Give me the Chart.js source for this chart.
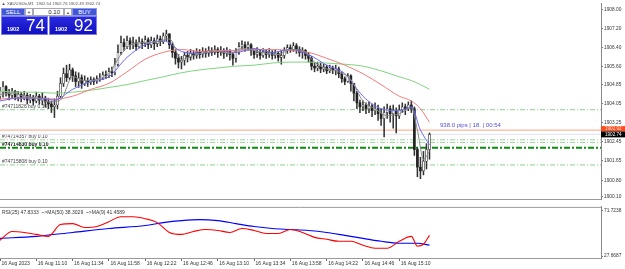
<!DOCTYPE html>
<html><head><meta charset="utf-8">
<script src="https://cdn.jsdelivr.net/npm/chart.js@4.4.0/dist/chart.umd.min.js"></script>
<style>
html,body{margin:0;padding:0;background:#fff;width:625px;height:269px;overflow:hidden;font-family:"Liberation Sans",Arial,sans-serif}
canvas{position:absolute;left:0}
#c1{top:0}
#c2{top:203px}
#panel div{position:absolute;box-sizing:border-box;text-align:center;white-space:nowrap}
.btn{background:#4257d8;color:#fff;font-size:6px;line-height:7px;border:1px solid #8c98e6}
.arr{background:#fff;color:#555;font-size:4px;line-height:7px;border:1px solid #a8a8b8}
.lot{background:#fff;color:#222;font-size:6px;line-height:7px;border:1px solid #a8a8b8;text-align:right!important;padding-right:3px}
.px{background:linear-gradient(#2a2ae0,#1010c0);color:#fff;border:1px solid #7d7de8}
.px .s{position:absolute;left:5px;top:9px;font-size:5.5px;font-weight:bold}
.px .b{position:absolute;left:24px;top:0px;font-size:17px;line-height:18px}
</style></head><body>
<canvas id="c1" width="625" height="203" style="width:625px;height:203px"></canvas>
<canvas id="c2" width="625" height="66" style="width:625px;height:66px"></canvas>
<div id="panel">
  <div class="btn" style="left:1px;top:8px;width:24px;height:8px">SELL</div>
  <div class="arr" style="left:25px;top:8px;width:8px;height:8px">▼</div>
  <div class="lot" style="left:33px;top:8px;width:31px;height:8px">0.10</div>
  <div class="arr" style="left:64px;top:8px;width:8px;height:8px">▲</div>
  <div class="btn" style="left:72px;top:8px;width:25px;height:8px">BUY</div>
  <div class="px" style="left:1px;top:16px;width:47px;height:19px"><span class="s">1902</span><span class="b">74</span></div>
  <div class="px" style="left:49px;top:16px;width:48px;height:19px"><span class="s">1902</span><span class="b">92</span></div>
</div>
<script>
// ---------------- DATA ----------------
const opens = [1904.35,1904.56,1904.76,1904.48,1904.39,1904.56,1904.31,1904.43,1904.27,1904.39,
1904.19,1904.31,1904.15,1904.35,1904.19,1904.27,1904.11,1904.02,1903.90,1903.98,
1904.35,1904.89,1905.30,1905.13,1905.46,1905.21,1904.97,1905.13,1904.89,1905.01,
1904.93,1905.05,1904.97,1905.09,1905.13,1905.25,1905.21,1905.38,1905.34,1905.70,
1906.20,1906.61,1906.44,1906.69,1906.52,1906.61,1906.44,1906.65,1906.57,1906.73,
1906.52,1906.69,1906.57,1906.77,1906.65,1906.89,1906.98,1906.52,1906.20,1905.95,
1905.79,1905.87,1906.07,1905.99,1906.16,1906.07,1906.20,1906.11,1906.24,1906.16,
1906.28,1906.20,1906.32,1906.20,1906.28,1906.16,1906.24,1906.11,1905.95,1906.20,
1906.44,1906.52,1906.40,1906.52,1906.28,1906.11,1906.20,1906.07,1906.24,1906.11,
1906.20,1906.07,1906.16,1905.99,1906.07,1906.28,1906.40,1906.32,1906.48,1906.32,
1906.20,1906.28,1906.07,1905.95,1905.62,1905.54,1905.62,1905.50,1905.58,1905.42,
1905.54,1905.46,1905.50,1905.30,1905.09,1904.97,1905.21,1904.89,1904.48,1904.07,
1903.90,1903.98,1903.82,1903.94,1903.74,1903.82,1903.61,1903.41,1903.66,1903.82,
1903.61,1903.74,1903.53,1903.78,1903.90,1903.82,1903.98,1903.82,1902.10,1901.36,
1901.20,1901.61,1902.10];
const highs = [1904.72,1904.97,1904.80,1904.64,1904.68,1904.60,1904.56,1904.52,1904.56,1904.48,
1904.43,1904.39,1904.52,1904.43,1904.48,1904.35,1904.27,1904.15,1904.23,1904.56,
1905.13,1905.54,1905.66,1905.70,1905.54,1905.38,1905.34,1905.25,1905.21,1905.13,
1905.17,1905.13,1905.21,1905.30,1905.38,1905.42,1905.54,1905.58,1905.95,1906.52,
1906.89,1906.77,1906.89,1906.81,1906.85,1906.73,1906.85,1906.77,1906.89,1906.81,
1906.85,1906.81,1906.93,1906.89,1907.02,1907.14,1906.98,1906.61,1906.32,1906.11,
1906.03,1906.20,1906.24,1906.32,1906.28,1906.36,1906.32,1906.40,1906.36,1906.44,
1906.40,1906.48,1906.40,1906.44,1906.36,1906.40,1906.32,1906.20,1906.36,1906.61,
1906.69,1906.65,1906.65,1906.57,1906.36,1906.40,1906.32,1906.36,1906.32,1906.36,
1906.28,1906.32,1906.24,1906.28,1906.40,1906.52,1906.52,1906.61,1906.57,1906.44,
1906.40,1906.32,1906.20,1906.03,1905.75,1905.79,1905.75,1905.70,1905.66,1905.66,
1905.62,1905.66,1905.58,1905.38,1905.17,1905.30,1905.25,1904.89,1904.56,1904.19,
1904.15,1904.07,1904.11,1904.02,1904.07,1903.98,1903.82,1903.90,1904.02,1903.94,
1903.98,1903.86,1903.98,1904.07,1904.02,1904.11,1904.15,1903.90,1902.18,1901.77,
1902.02,1902.35,1902.80];
const lows = [1904.23,1904.31,1904.35,1904.19,1904.27,1904.19,1904.15,1904.11,1904.19,1904.02,
1904.07,1903.98,1904.07,1904.02,1903.98,1903.90,1903.82,1903.66,1903.45,1903.82,
1904.27,1904.76,1904.97,1905.05,1904.97,1904.76,1904.72,1904.68,1904.80,1904.76,
1904.84,1904.84,1904.89,1904.97,1905.05,1905.09,1905.13,1905.17,1905.25,1905.62,
1906.11,1906.28,1906.36,1906.32,1906.36,1906.28,1906.40,1906.36,1906.44,1906.36,
1906.40,1906.32,1906.44,1906.48,1906.57,1906.69,1906.36,1905.99,1905.70,1905.54,
1905.50,1905.66,1905.79,1905.87,1905.91,1905.95,1905.95,1905.99,1905.99,1906.03,
1906.07,1906.11,1905.99,1906.07,1905.95,1906.03,1905.87,1905.66,1905.79,1906.11,
1906.32,1906.24,1906.28,1906.07,1905.95,1905.99,1905.91,1905.99,1905.95,1905.99,
1905.91,1905.95,1905.83,1905.70,1905.95,1906.16,1906.20,1906.24,1906.16,1906.03,
1905.95,1905.91,1905.79,1905.46,1905.38,1905.42,1905.34,1905.38,1905.30,1905.34,
1905.30,1905.25,1905.13,1904.93,1904.84,1904.93,1904.56,1904.15,1903.82,1903.66,
1903.74,1903.61,1903.66,1903.49,1903.57,1903.33,1903.12,1902.63,1903.41,1903.25,
1903.00,1902.80,1903.41,1903.66,1903.57,1903.74,1903.66,1901.85,1900.95,1900.87,
1901.03,1901.28,1901.69];
const closes = [1904.56,1904.76,1904.48,1904.39,1904.56,1904.31,1904.43,1904.27,1904.39,1904.19,
1904.31,1904.15,1904.35,1904.19,1904.27,1904.11,1904.02,1903.90,1903.98,1904.35,
1904.89,1905.30,1905.13,1905.46,1905.21,1904.97,1905.13,1904.89,1905.01,1904.93,
1905.05,1904.97,1905.09,1905.13,1905.25,1905.21,1905.38,1905.34,1905.70,1906.20,
1906.61,1906.44,1906.69,1906.52,1906.61,1906.44,1906.65,1906.57,1906.73,1906.52,
1906.69,1906.57,1906.77,1906.65,1906.89,1906.98,1906.52,1906.20,1905.95,1905.79,
1905.87,1906.07,1905.99,1906.16,1906.07,1906.20,1906.11,1906.24,1906.16,1906.28,
1906.20,1906.32,1906.20,1906.28,1906.16,1906.24,1906.11,1905.95,1906.20,1906.44,
1906.52,1906.40,1906.52,1906.28,1906.11,1906.20,1906.07,1906.24,1906.11,1906.20,
1906.07,1906.16,1905.99,1906.07,1906.28,1906.40,1906.32,1906.48,1906.32,1906.20,
1906.28,1906.07,1905.95,1905.62,1905.54,1905.62,1905.50,1905.58,1905.42,1905.54,
1905.46,1905.50,1905.30,1905.09,1904.97,1905.21,1904.89,1904.48,1904.07,1903.90,
1903.98,1903.82,1903.94,1903.74,1903.82,1903.61,1903.41,1903.66,1903.82,1903.61,
1903.74,1903.53,1903.78,1903.90,1903.82,1903.98,1903.82,1902.10,1901.36,1901.20,
1901.61,1902.10,1902.74];

// moving averages (minutes from 10:46)
const maTimes = [0,12,24,36,48,60,72,84,96,108,120,132,144,156,168,180,192,204,216,228,240,252,264,272,278,284];
const maBlue  = [1904.15,1904.27,1904.27,1904.19,1904.64,1904.97,1905.17,1905.99,1906.52,1906.69,1906.24,1906.16,1906.24,1906.20,1906.36,1906.20,1906.32,1906.11,1905.66,1905.30,1904.35,1903.82,1903.74,1903.90,1902.92,1902.30];
const maRed   = [1904.23,1904.27,1904.27,1904.23,1904.35,1904.64,1904.89,1905.38,1905.91,1906.20,1906.32,1906.24,1906.28,1906.28,1906.32,1906.32,1906.28,1906.20,1905.95,1905.66,1905.30,1904.84,1904.35,1904.15,1903.82,1903.25];
const maGreen = [1904.56,1904.52,1904.52,1904.48,1904.52,1904.60,1904.72,1904.84,1905.01,1905.17,1905.34,1905.46,1905.54,1905.62,1905.66,1905.75,1905.79,1905.79,1905.75,1905.70,1905.62,1905.42,1905.17,1905.01,1904.84,1904.64];
const grayTimes = [0,8,16,24,32,40,48,56,64,72,80,88,96,104,112,120,128,136,144,152,160,168,176,184,192,200,208,216,224,232,240,248,256,264,272,276,280,284];
const maGray  = [1904.43,1904.48,1904.35,1904.27,1904.11,1904.19,1905.17,1905.01,1905.05,1905.30,1906.11,1906.57,1906.61,1906.65,1906.77,1905.91,1906.07,1906.20,1906.24,1906.16,1906.36,1906.28,1906.16,1906.11,1906.32,1906.28,1905.79,1905.50,1905.38,1905.05,1904.15,1903.82,1903.53,1903.61,1903.86,1902.92,1901.69,1902.02];

// RSI panel
const rsiTimes = [0,8,16,24,32,40,48,56,64,72,80,88,96,104,112,120,128,136,144,152,160,168,176,184,192,200,208,216,224,232,240,248,256,264,272,276,280,284];
const rsiValues = [42.99,51.61,50.65,48.73,46.82,58.31,59.27,55.44,56.40,61.18,65.97,65.97,64.06,60.23,50.65,48.73,51.61,53.52,52.56,50.65,54.48,52.56,49.69,49.69,53.52,50.65,45.86,43.94,42.03,42.03,38.20,35.32,35.32,42.03,46.82,37.24,39.16,47.83];
const rsiMaTimes = [0,24,48,72,96,108,120,132,144,156,168,180,192,204,216,228,240,252,264,276,284];
const rsiMa50 = [44.90,46.82,50.65,54.48,57.35,60.23,62.14,63.10,62.14,59.27,56.40,54.48,53.52,52.56,50.65,47.77,44.90,42.03,40.11,40.11,38.30];

// levels / labels
const orderLevels = [1903.78,1902.51,1902.40,1902.18,1901.45];
const orderLabels = ['#74711826 buy 0.10','#74714357 buy 0.10','','#74714830 buy 0.10','#74715808 buy 0.10'];
const askPrice = 1902.92, bidPrice = 1902.74;
const priceTicks = [1908.00,1907.20,1906.40,1905.60,1904.85,1904.05,1903.25,1902.45,1901.65,1900.80,1900.10];
const rsiTicks = [71.7238,27.6687];
const xTickMinutes = [0,24,48,72,96,120,144,168,192,216,240,264];
const xTickLabels = ['16 Aug 2023','16 Aug 11:10','16 Aug 11:34','16 Aug 11:58','16 Aug 12:22','16 Aug 12:46','16 Aug 13:10','16 Aug 13:34','16 Aug 13:58','16 Aug 14:22','16 Aug 14:46','16 Aug 15:10'];
const headerText = 'XAUUSDb,M1  1902.54 1902.76 1902.49 1902.74';
const infoText = '938.0 pips | 18. | 00:54';
const rsiTitle = 'RSI(25) 47.8333  ~>MA(50) 38.3029  ~>MA(9) 41.4589';

// ---------------- CHARTS ----------------
const FONT = '"Liberation Sans", Arial, sans-serif';
Chart.defaults.font.family = FONT;
const X_MIN = 0, X_MAX = 397.4;
const barTimes = opens.map((_, i) => i * 2);
const isBull = i => closes[i] >= opens[i];

const xy = (ts, vs) => ts.map((t, i) => ({x: t, y: vs[i]}));
const lineDs = (data, color, order, w) => ({type:'line', data, borderColor:color, borderWidth:w||1, pointRadius:0, fill:false, cubicInterpolationMode:'monotone', order});
const levelColors = ['#8ccf8c','#9ad69a','#9ad69a','#0d8a0d','#8ccf8c'];
const levelDs = orderLevels.map((p, k) => ({
  type:'line', data:[{x:X_MIN,y:p},{x:X_MAX,y:p}], borderColor:levelColors[k],
  borderWidth: k===3 ? 2 : 1, borderDash: k===3 ? [6,2,2,2] : [5,2,1,2], pointRadius:0, order:20
}));

const mainPlugin = {
  id:'mainPlugin',
  beforeDatasetsDraw(chart){
    const {ctx, scales:{y}} = chart;
    ctx.save();
    ctx.textBaseline = 'alphabetic';
    orderLevels.forEach((p,k) => {
      if (!orderLabels[k]) return;
      ctx.font = (k===3 ? 'bold ' : '') + '5px ' + FONT;
      ctx.fillStyle = k===3 ? '#111' : '#444';
      ctx.fillText(orderLabels[k], 2, y.getPixelForValue(p) - 1.5);
    });
    ctx.restore();
  },
  afterDraw(chart){
    const {ctx, scales:{y}, chartArea} = chart;
    ctx.save();
    ctx.fillStyle = '#555';
    ctx.font = '4.2px ' + FONT;
    ctx.textBaseline = 'middle';
    ctx.fillText('▲', 1.5, 3.5);
    ctx.fillText(headerText, 7, 3.5);
    ctx.fillStyle = '#5050dc';
    ctx.font = '6px ' + FONT;
    ctx.textBaseline = 'alphabetic';
    ctx.fillText(infoText, 440, y.getPixelForValue(askPrice) - 3);
    const ya = y.getPixelForValue(askPrice), yb = y.getPixelForValue(bidPrice);
    ctx.fillStyle = '#ff4a1a';
    ctx.fillRect(chartArea.right, ya - 4, 24, 5);
    ctx.fillStyle = '#000';
    ctx.fillRect(chartArea.right, yb - 3, 24, 6);
    ctx.font = '4.6px ' + FONT;
    ctx.textBaseline = 'middle';
    ctx.fillStyle = '#ffd9cc';
    ctx.fillText(askPrice.toFixed(2), chartArea.right + 4, ya - 1.5);
    ctx.fillStyle = '#fff';
    ctx.fillText(bidPrice.toFixed(2), chartArea.right + 4, yb);
    ctx.restore();
  }
};

new Chart(document.getElementById('c1'), {
  type:'bar',
  data:{datasets:[
    ...levelDs,
    {type:'line', data:[{x:X_MIN,y:askPrice},{x:X_MAX,y:askPrice}], borderColor:'#ffa37f', borderWidth:1, pointRadius:0, order:19},
    {type:'line', data:[{x:X_MIN,y:bidPrice},{x:X_MAX,y:bidPrice}], borderColor:'#e2e2f2', borderWidth:1, pointRadius:0, order:19},
    {type:'bar', data: barTimes.map((t,i)=>({x:t, y:[lows[i], highs[i]]})), backgroundColor:'#333', barThickness:0.9, grouped:false, order:12},
    {type:'bar', data: barTimes.map((t,i)=>({x:t, y:[Math.min(opens[i],closes[i]), Math.max(opens[i],closes[i])]})),
      backgroundColor: c => isBull(c.dataIndex) ? '#fff' : '#222', borderColor:'#333',
      borderWidth: c => isBull(c.dataIndex) ? 0.6 : 0, borderSkipped:false, barThickness:2, grouped:false, order:11},
    lineDs(xy(maTimes, maGreen), '#7fd37f', 4),
    lineDs(xy(maTimes, maRed), '#f57a7a', 3),
    lineDs(xy(maTimes, maBlue), '#6a6af5', 2),
    lineDs(xy(grayTimes, maGray), '#8a8a8a', 1)
  ]},
  options:{
    responsive:false, animation:false, events:[],
    layout:{padding:0},
    plugins:{legend:{display:false}, tooltip:{enabled:false}},
    scales:{
      x:{type:'linear', min:X_MIN, max:X_MAX, offset:false, grid:{display:false, offset:false}, ticks:{display:false},
         border:{display:true, color:'#9a9a9a'}, afterFit(s){s.height = 2;}},
      y:{position:'right', min:1900.008, max:1908.246,
         afterFit(s){s.width = 24;},
         afterBuildTicks(s){s.ticks = priceTicks.map(v=>({value:v}));},
         ticks:{font:{size:4.8}, color:'#333', padding:1, autoSkip:false, callback:v=>v.toFixed(2)},
         grid:{drawOnChartArea:false, drawTicks:true, tickLength:2, color:'#777'},
         border:{display:true, color:'#888'}}
    }
  },
  plugins:[mainPlugin]
});

const rsiPlugin = {
  id:'rsiPlugin',
  afterDraw(chart){
    const {ctx, chartArea} = chart;
    ctx.save();
    ctx.strokeStyle = '#9a9a9a'; ctx.lineWidth = 1;
    ctx.beginPath(); ctx.moveTo(0, chartArea.top + 0.5); ctx.lineTo(chartArea.right, chartArea.top + 0.5); ctx.stroke();
    ctx.fillStyle = '#333';
    ctx.font = '5px ' + FONT;
    ctx.textBaseline = 'middle';
    ctx.fillText(rsiTitle, 2, chartArea.top + 5.5);
    ctx.restore();
  }
};

new Chart(document.getElementById('c2'), {
  type:'line',
  data:{datasets:[
    lineDs(xy(rsiMaTimes, rsiMa50), '#0000ff', 2, 1.1),
    lineDs(xy(rsiTimes, rsiValues), '#ff0000', 1, 1.1)
  ]},
  options:{
    responsive:false, animation:false, events:[],
    layout:{padding:{top:3, left:0, right:0, bottom:0}},
    plugins:{legend:{display:false}, tooltip:{enabled:false}},
    scales:{
      x:{type:'linear', min:X_MIN, max:X_MAX, offset:false,
         afterBuildTicks(s){s.ticks = xTickMinutes.map(v=>({value:v}));},
         afterFit(s){s.height = 11;},
         ticks:{font:{size:5}, color:'#333', align:'start', labelOffset:1.5, padding:0, autoSkip:false, maxRotation:0,
                callback:(v,i)=>xTickLabels[i]},
         grid:{drawOnChartArea:false, drawTicks:true, tickLength:3, color:'#666'},
         border:{display:true, color:'#9a9a9a'}},
      y:{position:'right', min:25.7533, max:75.5547,
         afterFit(s){s.width = 24;},
         afterBuildTicks(s){s.ticks = rsiTicks.map(v=>({value:v}));},
         ticks:{font:{size:4.8}, color:'#333', padding:1, autoSkip:false, callback:v=>v.toFixed(4)},
         grid:{drawOnChartArea:false, drawTicks:true, tickLength:2, color:'#777'},
         border:{display:true, color:'#888'}}
    }
  },
  plugins:[rsiPlugin]
});
</script>
</body></html>
